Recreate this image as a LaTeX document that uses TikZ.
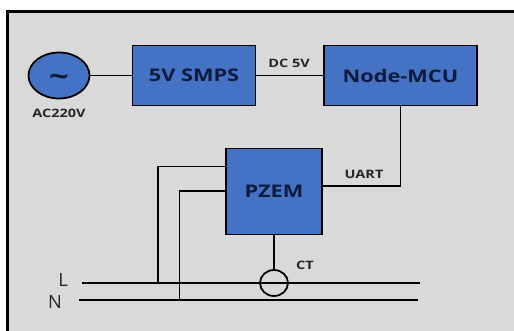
\documentclass[tikz,border=0pt]{standalone}
\usepackage{fontspec}
\setmainfont{Open Sans}
\newfontfamily\widefont[FakeStretch=1.25]{Open Sans}
\usetikzlibrary{shapes.geometric}

\definecolor{panelgray}{HTML}{D9D9D9}
\definecolor{boxblue}{HTML}{4472C4}
\definecolor{boxtext}{HTML}{0C1A3C}
\definecolor{labeltext}{HTML}{262626}

\tikzset{
    modulebox/.style={draw=black, fill=boxblue, line width=1pt, text=boxtext, font=\widefont\fontsize{9.9}{12}\selectfont\bfseries},
    wire/.style={draw=black, line width=0.75pt},
    smalllabel/.style={text=labeltext, font=\widefont\fontsize{6.6}{8}\selectfont\bfseries, inner sep=0pt},
    linelabel/.style={text=labeltext, font=\fontsize{10.4}{12}\selectfont, inner sep=0pt}
}

\begin{document}
\begin{tikzpicture}[x=0.02cm, y=-0.02cm]
    \useasboundingbox (0,0) rectangle (514,331);
    \begin{scope}
        \clip (0,0) rectangle (514,331);
        \draw[fill=panelgray, draw=black, line width=1.9pt] (7.7,11.2) rectangle (530,350);
    \end{scope}

    % blocks
    \node[modulebox, ellipse, minimum width=1.22cm, minimum height=0.92cm, inner sep=0pt] (source) at (59,75.5) {\raisebox{-6.5pt}[0pt][0pt]{\fontsize{16}{16}\selectfont\textasciitilde}};
    \node[modulebox, minimum width=2.46cm, minimum height=1.2cm] (smps) at (194,75.5) {5V SMPS};
    \node[modulebox, minimum width=3.06cm, minimum height=1.2cm] (mcu) at (400.5,75.5) {Node-MCU};
    \node[modulebox, minimum width=1.92cm, minimum height=1.72cm] (pzem) at (274,191.5) {PZEM};
    \node[draw=black, ellipse, line width=1pt, minimum width=0.56cm, minimum height=0.52cm, inner sep=0pt] (ct) at (274,283) {};

    % free ends
    \coordinate (lstart) at (82,283);
    \coordinate (lend) at (420,283);
    \coordinate (nstart) at (79,300);
    \coordinate (nend) at (418,300);
    \coordinate (uartin) at (322,186);
    \coordinate (ltap) at (226,166.5);
    \coordinate (ntap) at (226,191);
    \coordinate (ljoin) at (158,283);
    \coordinate (njoin) at (179.5,300);

    % connectors
    \draw[wire] (source) -- (smps);
    \draw[wire] (smps) -- (mcu);
    \draw[wire, line width=1pt] (mcu.south) |- (uartin);
    \draw[wire, line width=1pt] (pzem.south) -- (ct.north);
    \draw[wire] (lstart) -- (lend);
    \draw[wire] (nstart) -- (nend);
    \draw[wire] (ltap) -| (ljoin);
    \draw[wire] (ntap) -| (njoin);

    % labels
    \node[smalllabel] (aclabel) at (59,113.5) {AC220V};
    \node[smalllabel] (dclabel) at (289,63) {DC 5V};
    \node[smalllabel] (uartlabel) at (364,174) {UART};
    \node[smalllabel] (ctlabel) at (305,265) {CT};
    \node[linelabel] (llabel) at (63,280) {L};
    \node[linelabel] (nlabel) at (55,302) {N};
\end{tikzpicture}
\end{document}
